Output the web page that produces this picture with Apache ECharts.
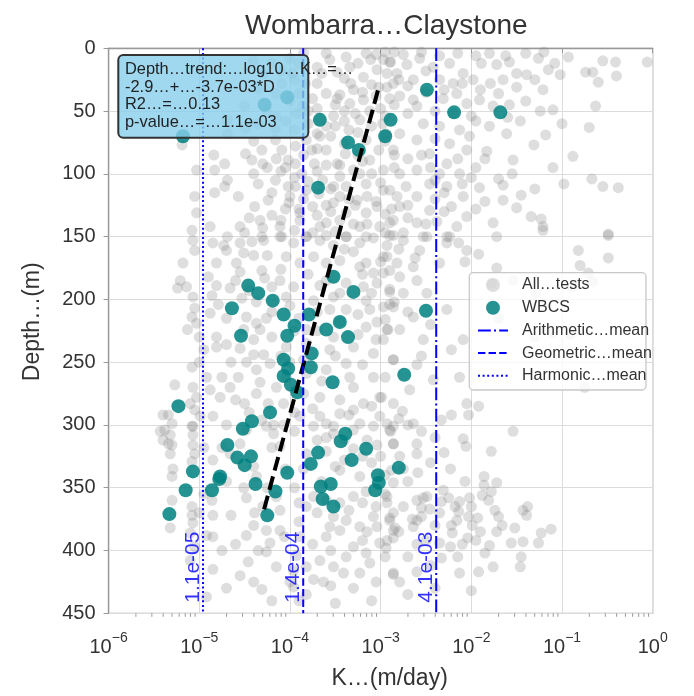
<!DOCTYPE html>
<html><head><meta charset="utf-8">
<script src="https://cdn.jsdelivr.net/npm/echarts@6/dist/echarts.min.js"></script>
<style>html,body{margin:0;padding:0;background:#fff}#c{width:694px;height:696px}</style>
</head><body><div id="c"></div>
<script>
// ---- data (log10 K, depth in m) ----
const wbcsLogK = [-4.28,-4.03,-5.18,-3.67,-2.89,-2.95,-3.36,-3.24,-3.69,-2.49,-2.19,-1.68,
 -3.52,-3.30,-4.46,-4.35,-4.19,-4.64,-4.07,-3.95,-3.79,-3.45,-3.60,-3.36,-4.54,-4.03,-3.76,-4.07,-4.02,-3.77,-4.07,-3.53,-3.99,-3.92,-2.74,-2.50,
 -5.23,-4.22,-4.42,-4.52,-4.69,-4.58,-4.43,-4.50,-5.07,-4.77,-4.78,-4.03,-4.38,-5.15,-4.86,-4.16,-5.33,-4.25,
 -3.77,-3.69,-3.44,-3.39,-3.16,-3.32,-2.80,-3.03,-3.02,-3.06,-3.55,-3.66,-3.64,-3.52];
const wbcsDepth = [45,39,70,57,57,70,75,81,111,33,51,51,
 182,194,189,195,201,207,212,221,212,218,224,230,229,229,243,248,255,254,261,266,268,274,260,209,
 285,290,297,303,316,326,325,332,337,341,343,338,347,352,352,353,371,372,
 331,322,313,307,319,328,334,340,346,352,347,349,359,365];

const allTests = [
 [-3.11,9],[-2.89,11],[-3.04,17],[-3.19,23],[-2.93,20],[-2.86,28],[-3.33,28],[-3.83,28],[-3.75,40],[-3.60,36],[-3.45,37],[-3.34,44],[-3.19,41],[-3.05,38],[-3.12,50],[-3.23,57],[-3.52,54],[-3.60,62],[-3.82,73],[-3.67,70],[-3.60,81],[-3.16,73],[-2.94,68],[-3.02,81],[-3.12,89],[-3.30,97],[-3.48,92],[-3.73,92],[-3.87,100],[-4.02,89],[-4.09,81],[-3.94,78],[-4.16,73],[-4.31,81],[-4.42,89],[-4.49,84],[-4.16,105],[-3.94,110],[-3.64,105],[-3.38,110],[-3.16,108],[-2.97,113],[-3.04,126],[-3.26,121],[-3.52,123],[-3.75,126],[-4.01,123],[-4.24,121],[-4.39,126],[-4.57,118],[-4.72,110],[-4.83,115],[-4.69,105],[-4.83,97],[-4.72,92],[-4.84,85],[-5.03,97],[-5.05,118],[-5.03,131],[-5.08,145],[-5.19,77],[-4.88,142],[-4.55,142],[-4.33,137],[-4.11,142],[-3.89,137],[-3.67,142],[-3.45,137],[-3.23,142],[-3.01,142],[-2.86,137],[-4.31,150],[-4.09,150],[-3.82,150],[-3.60,149],[-3.38,150],[-3.16,150],[-4.69,150],[-4.50,147],
 [-4.49,64],[-4.16,64],[-4.69,57],[-3.93,52],[-4.09,28],[-4.50,46],[-4.16,36],[-3.97,20],[-4.69,68],
 [-3.86,46],[-3.35,65],[-2.95,54],[-3.82,113],[-3.52,110],[-3.23,100],[-2.97,97],[-3.38,131],[-3.60,139],[-3.89,131],[-4.02,110],[-3.16,131],[-2.82,118],[-3.94,92],[-3.76,81],[-3.39,84],[-3.28,52],[-3.02,31],[-3.34,15],[-3.56,9],[-3.60,4],[-3.38,7],[-3.16,4],[-2.97,9],
 [-3.70,15],[-3.48,19],[-3.25,12],[-3.05,5],[-2.85,3],[-3.40,24],[-3.70,48],[-3.50,45],[-3.30,33],[-3.10,29],[-2.90,40],[-3.80,60],[-3.40,58],[-3.10,62],[-2.85,85],[-3.25,85],[-3.55,70],[-3.70,98],[-3.45,102],[-3.10,100],[-2.88,128],[-3.15,118],[-3.45,118],[-3.68,116],[-3.85,120],[-3.30,140],[-3.55,130],[-3.75,147],[-2.95,147],[-3.05,122],
 [-4.25,95],[-4.10,98],[-4.35,108],[-4.20,115],[-4.05,128],[-4.20,133],[-4.45,135],[-3.95,145],[-4.40,100],[-4.00,118],
 [-2.90,11],[-2.71,13],[-2.57,8],[-2.42,15],[-2.24,12],[-2.09,20],[-1.89,12],[-1.72,13],[-1.58,11],[-1.50,20],[-1.39,21],[-1.26,8],[-1.15,17],[-1.08,12],[-1.02,21],[-0.93,7],[-1.30,25],[-1.65,25],[-1.79,28],[-1.98,25],[-2.20,28],[-2.35,25],[-2.64,25],[-2.82,20],[-2.93,31],[-2.79,38],[-2.64,41],[-2.31,40],[-2.16,36],[-2.05,44],[-1.91,41],[-1.76,46],[-1.58,45],[-1.46,58],[-1.21,33],[-1.10,49],[-1.24,50],[-1.18,69],[-1.31,77],[-1.61,68],[-1.54,89],[-1.83,82],[-1.85,88],[-1.70,104],[-1.65,109],[-1.91,111],[-1.85,122],[-1.65,121],[-1.45,117],[-1.34,134],[-1.23,136],[-1.21,142],[-1.76,139],[-2.00,54],[-2.02,70],[-2.13,65],[-2.24,76],[-2.05,81],[-2.27,92],[-2.13,100],[-2.27,110],[-2.09,118],[-2.22,126],[-2.05,134],[-2.16,142],[-2.27,150],[-2.53,60],[-2.60,73],[-2.46,84],[-2.60,97],[-2.46,108],[-2.60,118],[-2.46,129],[-2.60,139],[-2.49,150],[-2.79,68],[-2.86,81],[-2.79,100],[-2.90,113],[-2.79,126],[-2.90,139],[-2.75,147],[-0.98,108],[-0.88,86],[-0.74,19],[-0.66,19],[-0.55,10],[-0.41,11],[-0.06,11],[-0.40,22],[-0.60,27],[-0.63,46],[-0.70,63],[-0.67,104],[-0.55,110],[-0.38,111],[-0.49,148],
 [-2.70,30],[-2.50,35],[-2.40,50],[-2.70,52],[-2.85,45],[-2.35,62],[-2.55,85],[-2.70,88],[-2.35,100],[-2.72,110],[-2.40,120],[-2.85,95],[-2.38,138],[-2.70,135],
 [-2.90,149],[-2.53,150],[-2.24,150],[-2.14,155],[-1.72,150],[-1.21,145],[-0.49,149],[-0.82,161],[-0.49,167],[-0.80,173],[-0.71,179],[-0.66,186],[-0.89,190],[-1.29,195],[-1.54,185],[-1.72,175],[-1.92,164],[-2.07,170],[-1.78,187],[-1.70,215],[-1.30,230],[-1.10,227],[-0.91,228],[-2.22,240],[-2.60,252],[-2.86,248],[-2.79,224],[-2.90,204],[-2.85,202],[-2.90,192],[-2.62,167],[-2.64,174],[-2.93,166],[-0.75,270],[-1.92,285],[-2.03,292],[-2.76,289],[-2.33,296],[-2.97,232],[-2.92,224],[-2.95,216],[-2.57,161],[-2.27,155],[-2.05,161],[-2.82,171],[-2.97,179],[-2.79,182],[-2.99,278],[-2.86,283],[-2.64,299],[-2.93,299],[-2.22,292],[-2.05,283],[-2.75,153],[-2.35,171],[-2.49,195],[-2.27,208],[-2.64,214],[-2.09,232],[-2.53,232],[-2.42,264],[-2.68,272],[-2.13,262],
 [-5.18,171],[-5.21,185],[-5.24,191],[-5.14,190],[-5.07,198],[-5.05,207],[-5.08,214],[-5.13,224],[-5.03,219],[-5.00,230],[-5.27,268],[-5.07,270],[-5.03,278],[-5.10,283],[-5.05,288],[-5.34,292],[-5.30,299],[-4.99,293],[-5.08,301],[-5.07,153],[-5.05,161],[-5.08,254],
 [-4.85,155],[-4.73,157],[-4.70,161],[-4.55,155],[-4.42,154],[-4.29,153],[-4.51,163],[-4.40,165],[-4.81,171],[-4.59,171],[-4.55,178],[-4.31,177],[-4.28,183],[-4.81,189],[-4.66,191],[-4.53,199],[-4.37,202],[-4.86,197],[-4.79,204],[-4.88,211],[-4.70,215],[-4.48,214],[-4.37,219],[-4.26,215],[-4.51,224],[-4.33,224],[-4.81,230],[-4.70,236],[-4.81,238],[-4.55,239],[-4.40,244],[-4.29,244],[-4.48,250],[-4.22,251],[-4.37,256],[-4.57,262],[-4.33,266],[-4.66,270],[-4.88,272],[-4.77,278],[-4.50,283],[-4.37,275],[-4.24,283],[-4.85,293],[-4.70,300],[-4.31,296],[-4.48,304],[-4.18,300],
 [-4.11,150],[-3.96,155],[-3.82,150],[-3.67,153],[-3.52,157],[-3.38,150],[-3.23,155],[-3.08,151],[-2.93,157],[-2.86,149],[-4.04,166],[-3.89,171],[-3.74,166],[-3.60,171],[-3.45,169],[-3.16,171],[-2.97,166],[-2.90,177],[-3.08,179],[-3.23,174],[-4.11,185],[-3.96,190],[-3.67,189],[-3.38,187],[-3.19,190],[-3.04,187],[-2.90,194],[-4.04,198],[-3.74,201],[-3.52,198],[-3.16,201],[-2.97,206],[-2.86,206],[-3.56,208],[-3.38,208],[-3.12,208],[-3.04,218],[-2.93,224],[-3.16,222],[-3.52,230],[-3.82,224],[-4.04,238],[-3.82,235],[-3.56,240],[-3.30,238],[-3.08,243],[-2.86,248],[-3.38,251],[-3.60,256],[-3.82,259],[-4.04,262],[-3.34,262],[-3.08,262],[-3.30,270],[-3.01,278],[-3.19,283],[-3.45,280],[-3.67,278],[-3.85,275],[-4.07,283],[-3.89,293],[-3.67,293],[-3.45,291],[-3.23,299],[-3.01,293],[-2.86,301],[-3.52,301],[-4.07,300],
 [-5.38,304],[-5.32,308],[-5.30,316],[-5.40,312],[-5.32,323],[-5.29,335],[-5.07,301],[-5.07,308],[-5.07,316],[-5.05,323],[-5.08,329],[-5.30,341],[-5.30,360],[-5.32,382],[-5.08,365],[-5.08,372],[-5.07,378],[-5.10,386],[-5.05,397],[-5.10,408],[-4.92,388],[-4.85,389],[-4.92,437],[-5.40,292],[-5.43,305],[-5.34,315],
 [-4.85,328],[-4.86,360],[-4.66,323],[-4.55,315],[-4.40,333],[-4.37,341],[-4.51,350],[-4.48,358],[-4.39,370],[-4.48,388],[-4.46,409],[-4.40,380],[-4.26,384],[-4.22,394],[-4.26,401],[-4.11,368],[-4.11,384],[-4.06,389],[-4.31,431],[-4.15,413],[-3.96,416],[-3.93,404],[-3.89,389],[-4.26,301],[-4.18,307],[-4.11,317],
 [-3.74,301],[-3.60,299],[-3.52,307],[-3.30,304],[-3.08,301],[-2.90,304],[-2.86,315],[-3.04,316],[-3.30,319],[-3.60,321],[-3.82,323],[-3.85,335],[-3.45,336],[-3.23,341],[-2.86,346],[-2.93,357],[-3.16,353],[-3.30,357],[-3.45,362],[-3.74,357],[-3.82,365],[-3.52,373],[-3.56,381],[-3.60,389],[-3.38,376],[-3.23,381],[-3.08,373],[-3.04,381],[-2.90,376],[-2.86,384],[-3.45,384],[-3.30,397],[-3.16,402],[-3.01,394],[-3.38,405],[-3.52,413],[-3.67,408],[-3.82,413],[-3.74,423],[-3.63,425],[-3.41,418],[-3.23,418],[-3.12,410],[-2.86,418],[-3.82,435],[-3.96,429],
 [-2.89,305],[-2.60,315],[-2.86,315],[-2.09,311],[-2.06,317],[-1.78,321],[-1.54,305],[-2.59,338],[-2.23,335],[-2.07,345],[-1.86,341],[-1.72,346],[-1.86,348],[-1.78,353],[-1.88,356],[-2.02,358],[-1.81,360],[-2.13,361],[-2.18,365],[-2.31,352],[-2.49,357],[-2.60,360],[-2.55,366],[-2.46,367],[-2.33,361],[-2.14,369],[-2.03,373],[-1.93,374],[-1.99,380],[-1.74,368],[-1.70,373],[-1.66,380],[-1.72,385],[-1.80,396],[-1.85,402],[-1.76,413],[-1.92,417],[-2.13,418],[-1.52,382],[-1.56,394],[-1.45,405],[-1.46,413],[-1.43,393],[-1.26,394],[-1.23,386],[-1.12,383],[-1.43,368],[-1.38,365],[-1.39,372],[-2.22,380],[-2.16,376],[-2.21,386],[-2.04,390],[-2.23,397],[-2.35,394],[-2.33,406],[-2.60,376],[-2.55,373],[-2.64,381],[-2.84,382],[-2.86,390],[-2.94,398],[-2.86,419],[-2.79,425],[-2.60,417],[-2.53,358],[-2.86,370],[-2.93,362],[-2.90,374],[-2.60,323],[-2.79,325],[-2.88,336],[-2.93,392],
 [-2.95,3],[-2.75,5],[-2.55,3],[-2.35,6],[-2.15,4],[-1.95,6],[-1.80,4],[-1.62,6],[-1.40,4],[-1.20,3],[-2.80,25],[-2.50,18],[-2.30,33],[-2.10,28],[-1.90,33],[-1.70,36],[-1.50,31],[-1.40,42],[-2.60,46],[-2.20,52],[-1.95,58],[-1.80,62],[-1.60,55],[-2.40,72],[-2.15,88],[-1.95,95],[-2.00,103],[-2.45,95],[-2.30,130],[-1.95,128],[-1.55,100],[-1.50,127],[-1.30,112],[-1.10,95],[-1.00,60],
 [-4.30,20],[-4.20,12],[-4.00,8],[-3.85,4],[-3.90,36],[-4.25,50],[-4.05,58],[-3.70,80],[-3.95,65],[-4.40,74],[-4.30,92],[-4.15,88],[-3.80,106],[-3.60,93],[-3.40,76],[-3.20,90],[-3.00,107],[-3.55,112],[-3.70,133],[-3.95,103],[-4.10,137],[-4.30,143],[-3.50,146],[-3.28,125],[-2.95,74],[-3.25,67],[-3.00,48],[-3.48,40],[-3.70,28],[-3.90,12],
 [-4.60,185],[-4.45,193],[-4.20,190],[-4.00,205],[-3.90,215],[-3.70,225],[-3.45,218],[-3.25,228],[-3.05,232],[-3.85,248],[-3.65,265],[-3.50,245],[-3.20,252],[-2.95,262],[-4.20,230],[-4.40,232],[-4.15,270],[-4.00,250],[-3.75,287],[-3.30,288],[-4.25,165],[-4.10,176],[-3.80,180],[-3.30,162],[-3.10,195],[-4.65,250],[-4.75,262],[-4.60,280],[-4.45,290],[-4.95,240],[-4.90,182],[-5.00,250],[-4.92,262],
 [-3.95,305],[-3.70,312],[-3.40,312],[-3.15,312],[-3.40,328],[-3.65,345],[-3.95,350],[-3.10,330],[-2.95,340],[-3.20,362],[-3.05,365],[-3.70,370],[-3.90,377],[-3.75,395],[-3.55,400],[-3.20,392],[-2.95,405],[-3.05,425],[-3.30,430],[-3.55,428],[-2.70,300],[-2.40,310],[-2.30,322],[-2.45,330],[-2.70,345],[-2.40,380],[-2.50,392],[-2.70,405],[-2.45,412],[-2.15,405],[-1.95,392],[-2.00,432],[-2.40,430],[-2.70,435],[-3.10,440],[-3.50,442],[-3.90,440],[-4.20,440],[-4.00,425],
 [-4.75,318],[-4.95,318],[-4.70,345],[-4.95,355],[-4.65,372],[-4.85,372],[-4.75,400],[-4.60,395],[-4.35,400],[-4.55,420],[-4.85,415],[-5.00,370],[-4.70,430],[-4.40,425],
 [-4.40,10],[-4.10,18],[-3.95,25],[-4.35,32],[-4.00,42],[-3.80,50],[-4.15,55],[-4.35,60],[-3.65,20],[-3.40,50],[-3.20,35],[-2.98,60],[-3.50,62],[-3.70,68],
 [-3.90,128],[-3.60,125],[-3.35,120],[-3.15,140],[-2.95,132],[-2.70,125],[-2.50,140],[-2.30,115],[-2.10,108],[-2.40,105],[-3.45,93],[-3.85,85],[-4.05,95],
 [-3.40,160],[-3.20,180],[-3.00,170],[-2.80,160],[-2.60,185],[-2.75,195],[-3.45,195],[-3.60,185],[-3.25,212],[-2.70,210],[-2.45,220],[-2.55,245],[-3.70,210],[-3.95,225],[-4.20,210],[-4.10,245],
 [-3.95,290],[-3.60,310],[-3.35,292],[-3.10,285],[-2.80,295],[-2.55,305],[-3.20,325],[-3.50,333],[-3.00,325],[-2.75,335],[-4.20,318],[-4.05,335],[-4.25,350],
 [-2.95,355],[-2.75,365],[-2.65,375],[-2.35,370],[-2.25,358],[-2.00,365],[-1.90,385],[-2.10,395],[-2.60,395],[-2.80,385],[-3.15,385],[-3.35,368],[-3.60,360],[-3.90,362],[-4.15,357],[-4.30,365]
];

const trendLogK = [-3.03, -4.30];
const trendDepth = [33.5, 371];

const meanNames = ['Arithmetic…mean', 'Geometric…mean', 'Harmonic…mean'];
const meanValues = [4.1e-3, 1.4e-4, 1.1e-5];
const meanLabels = ['4.1e-03', '1.4e-04', '1.1e-05'];
const meanDash = [[12.8, 3.2, 2, 3.2], [7.4, 3.2], [2, 2.6]];

const depthRange = [0, 450];
const kRange = [1e-6, 1];
const minorTickValues = [];
for (let e = -6; e < 0; e++) for (let m = 2; m <= 9; m++) minorTickValues.push(m * Math.pow(10, e));

const chart = echarts.init(document.getElementById('c'), null, {renderer: 'canvas'});
const sup = {'-6':'−6','-5':'−5','-4':'−4','-3':'−3','-2':'−2','-1':'−1','0':'0'};
const FONT = 'Liberation Sans, Arial, sans-serif';

const series = [
  {name: 'All…tests', type: 'scatter', symbolSize: 11, z: 2,
   data: allTests.map(p => [Math.pow(10, p[0]), p[1]]),
   itemStyle: {color: '#808080', opacity: 0.26}},
  {name: 'WBCS', type: 'scatter', symbolSize: 14, z: 3,
   data: wbcsLogK.map((v, i) => [Math.pow(10, v), wbcsDepth[i]]),
   itemStyle: {color: '#008080', opacity: 0.85}},
  {name: 'trend', type: 'line', z: 5, symbol: 'none', silent: true,
   data: trendLogK.map((v, i) => [Math.pow(10, v), trendDepth[i]]),
   lineStyle: {color: '#000', width: 4, type: [14, 6], cap: 'butt'}}
];
meanNames.forEach((n, i) => {
  series.push({name: n, type: 'line', z: 6, symbol: 'none', clip: true,
    data: [[meanValues[i], depthRange[0]], [meanValues[i], depthRange[1]]],
    lineStyle: {color: '#0000ff', width: 2, type: meanDash[i], cap: 'butt'},
    itemStyle: {color: '#0000ff'}});
});
series.push({name: 'meanLabels', type: 'scatter', z: 7, symbolSize: 1, silent: true,
  data: meanValues.map((v, i) => [v, depthRange[1], meanLabels[i]]),
  itemStyle: {color: 'rgba(0,0,0,0)'},
  label: {show: true, formatter: p => p.value[2], rotate: 90, position: [1, -10],
    align: 'left', verticalAlign: 'bottom', color: '#0000ff', fontSize: 21, fontFamily: FONT}});
series.push({name: 'minorTicks', type: 'custom', z: 8, silent: true, clip: false,
  data: minorTickValues.map(v => [v, depthRange[1]]),
  renderItem: (params, api) => {
    const p = api.coord([api.value(0), api.value(1)]);
    return {type: 'line', shape: {x1: p[0], y1: p[1], x2: p[0], y2: p[1] + 3.5},
      style: {stroke: '#999', lineWidth: 1}};
  }});

const legendData = ['All…tests', 'WBCS'].concat(meanNames.map((n, i) => ({
  name: n,
  itemStyle: {color: 'rgba(0,0,0,0)', borderColor: 'rgba(0,0,0,0)', borderWidth: 0},
  lineStyle: {color: '#0000ff', width: 2, type: meanDash[i], opacity: 1}
})));

chart.setOption({
  backgroundColor: '#fff',
  animation: false,
  textStyle: {fontFamily: FONT},
  title: {text: 'Wombarra…Claystone', left: 240, top: 7,
    textStyle: {fontSize: 28, fontWeight: 'normal', color: '#333', fontFamily: FONT}},
  grid: {left: 108.6, right: 41.3, top: 48.3, bottom: 82.7, show: true,
    borderColor: '#aaa', borderWidth: 1.3, backgroundColor: 'transparent'},
  legend: {
    data: legendData, z: 12,
    orient: 'vertical', left: 469, top: 273, itemWidth: 30, itemHeight: 14, itemGap: 6.7,
    padding: [4, 8, 6, 8],
    textStyle: {fontSize: 16, color: '#333', fontFamily: FONT, padding: [0, 0, 0, 9]}
  },
  xAxis: {type: 'log', min: kRange[0], max: kRange[1], logBase: 10,
    name: 'K…(m/day)', nameLocation: 'middle', nameGap: 54,
    nameTextStyle: {fontSize: 23, color: '#333', fontFamily: FONT, padding: [0, 0, 0, 18]},
    axisLine: {show: true, lineStyle: {color: '#999', width: 1.3}},
    axisTick: {show: true, length: 5, lineStyle: {color: '#999'}},
    splitLine: {show: true, lineStyle: {color: '#dcdcdc', width: 1}},
    minorTick: {show: false},
    axisLabel: {margin: 14, color: '#333',
      formatter: v => '{b|10}{s|' + sup[String(Math.round(Math.log10(v)))] + '}',
      rich: {b: {fontSize: 20, color: '#333', fontFamily: FONT, padding: [10, 0, 0, 0]},
             s: {fontSize: 14, color: '#333', fontFamily: FONT, padding: [0, 0, 8, 0]}}}},
  yAxis: {type: 'value', inverse: true, min: depthRange[0], max: depthRange[1], interval: 50,
    name: 'Depth…(m)', nameLocation: 'middle', nameGap: 64,
    nameTextStyle: {fontSize: 23, color: '#333', fontFamily: FONT, padding: [0, 0, 0, 18]},
    axisLine: {show: true, lineStyle: {color: '#999', width: 1.3}},
    axisTick: {show: true, length: 5, lineStyle: {color: '#999'}},
    splitLine: {show: true, lineStyle: {color: '#dcdcdc', width: 1}},
    axisLabel: {margin: 13, fontSize: 20, color: '#333', fontFamily: FONT}},
  graphic: [
    {type: 'rect', z: 9, shape: {x: 469.3, y: 272.7, width: 176.7, height: 117.3, r: 4},
     style: {fill: 'rgba(255,255,255,0.8)', stroke: '#c8c8c8', lineWidth: 1.3}},
    {type: 'rect', z: 100, shape: {x: 118.3, y: 55, width: 190, height: 82.7, r: 5},
     style: {fill: 'rgba(135,206,235,0.8)', stroke: '#333', lineWidth: 2}},
    {type: 'text', z: 101, x: 125, y: 60.4,
     style: {text: 'Depth…trend:…log10…K…=…\n-2.9…+…-3.7e-03*D\nR2…=…0.13\np-value…=…1.1e-03',
       font: '16.4px Liberation Sans, Arial, sans-serif', lineHeight: 17.8, fill: '#222'}}
  ],
  series: series
});
</script></body></html>
